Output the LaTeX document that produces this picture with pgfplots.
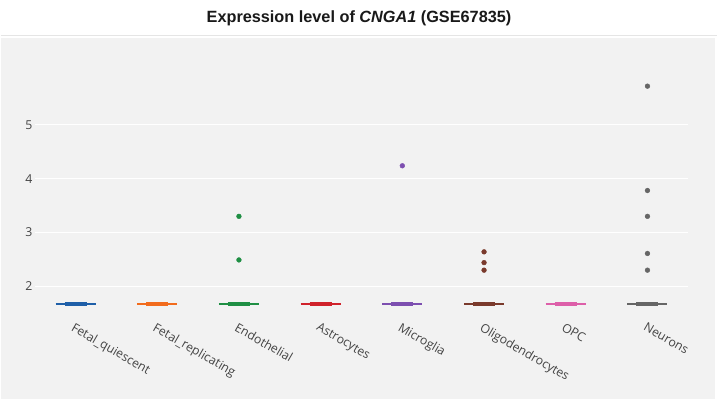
\documentclass[border=0pt]{standalone}
\usepackage{pgfplots}
\pgfplotsset{compat=1.18}
\usepackage{fontspec}
\setmainfont{Open Sans}
\newfontfamily\titlefont{Liberation Sans}
\definecolor{bg}{HTML}{F2F2F2}
\definecolor{tickgrey}{HTML}{444444}
\definecolor{cA}{HTML}{1F5FA8}
\definecolor{cB}{HTML}{F26C1D}
\definecolor{cC}{HTML}{1F8F44}
\definecolor{cD}{HTML}{D0222B}
\definecolor{cE}{HTML}{7D4FB0}
\definecolor{cF}{HTML}{7A3A2C}
\definecolor{cG}{HTML}{DD5FA9}
\definecolor{cH}{HTML}{666666}
\pgfplotsset{
  whisk/.style={line width=1.5pt, forget plot},
  boxx/.style={line width=4.5pt, forget plot},
  outl/.style={only marks, mark=*, mark size=2.4pt, forget plot},
}
\begin{document}
\begin{tikzpicture}
\fill[white] (-34pt,-84pt) rectangle (684pt,316pt);
\fill[bg] (-34pt,-84pt) rectangle (682pt,278pt);
\draw[line width=1.5pt, color=black!10] (-34pt,280.5pt) -- (684pt,280.5pt);
\node[font=\titlefont\bfseries\fontsize{16.3}{19}\selectfont, text=black!90] at (325pt,298pt) {Expression level of \textit{CNGA1} (GSE67835)};
\begin{axis}[at={(0pt,0pt)}, anchor=south west, scale only axis,
  width=655pt, height=241pt,
  xmin=-0.5, xmax=7.5, ymin=1.46, ymax=5.93,
  axis line style={draw=none}, major tick length=0pt,
  ymajorgrids, grid style={white, line width=1pt},
  ytick={2,3,4,5},
  xtick={0,1,2,3,4,5,6,7},
  xticklabels={Fetal\_quiescent,Fetal\_replicating,Endothelial,Astrocytes,Microglia,Oligodendrocytes,OPC,Neurons},
  tick label style={font=\fontsize{12.3}{14}\selectfont, text=tickgrey},
  yticklabel style={anchor=east, inner sep=0pt, xshift=-2pt},
  xticklabel style={rotate=-30, anchor=north west, inner sep=0pt, xshift=3pt, yshift=-6pt},
  /pgf/number format/assume math mode=true,
  clip=false]
% Fetal_quiescent
\addplot[cA, whisk] coordinates {(-0.245,1.667) (0.245,1.667)};
\addplot[cA, boxx] coordinates {(-0.135,1.667) (0.135,1.667)};
% Fetal_replicating
\addplot[cB, whisk] coordinates {(0.755,1.667) (1.245,1.667)};
\addplot[cB, boxx] coordinates {(0.865,1.667) (1.135,1.667)};
% Endothelial
\addplot[cC, whisk] coordinates {(1.755,1.667) (2.245,1.667)};
\addplot[cC, boxx] coordinates {(1.865,1.667) (2.135,1.667)};
\addplot[cC, outl] coordinates {(2,3.30) (2,2.49)};
% Astrocytes
\addplot[cD, whisk] coordinates {(2.755,1.667) (3.245,1.667)};
\addplot[cD, boxx] coordinates {(2.865,1.667) (3.135,1.667)};
% Microglia
\addplot[cE, whisk] coordinates {(3.755,1.667) (4.245,1.667)};
\addplot[cE, boxx] coordinates {(3.865,1.667) (4.135,1.667)};
\addplot[cE, outl] coordinates {(4,4.24)};
% Oligodendrocytes
\addplot[cF, whisk] coordinates {(4.755,1.667) (5.245,1.667)};
\addplot[cF, boxx] coordinates {(4.865,1.667) (5.135,1.667)};
\addplot[cF, outl] coordinates {(5,2.64) (5,2.44) (5,2.30)};
% OPC
\addplot[cG, whisk] coordinates {(5.755,1.667) (6.245,1.667)};
\addplot[cG, boxx] coordinates {(5.865,1.667) (6.135,1.667)};
% Neurons
\addplot[cH, whisk] coordinates {(6.755,1.667) (7.245,1.667)};
\addplot[cH, boxx] coordinates {(6.865,1.667) (7.135,1.667)};
\addplot[cH, outl] coordinates {(7,5.72) (7,3.78) (7,3.30) (7,2.61) (7,2.30)};
\end{axis}
\end{tikzpicture}
\end{document}
